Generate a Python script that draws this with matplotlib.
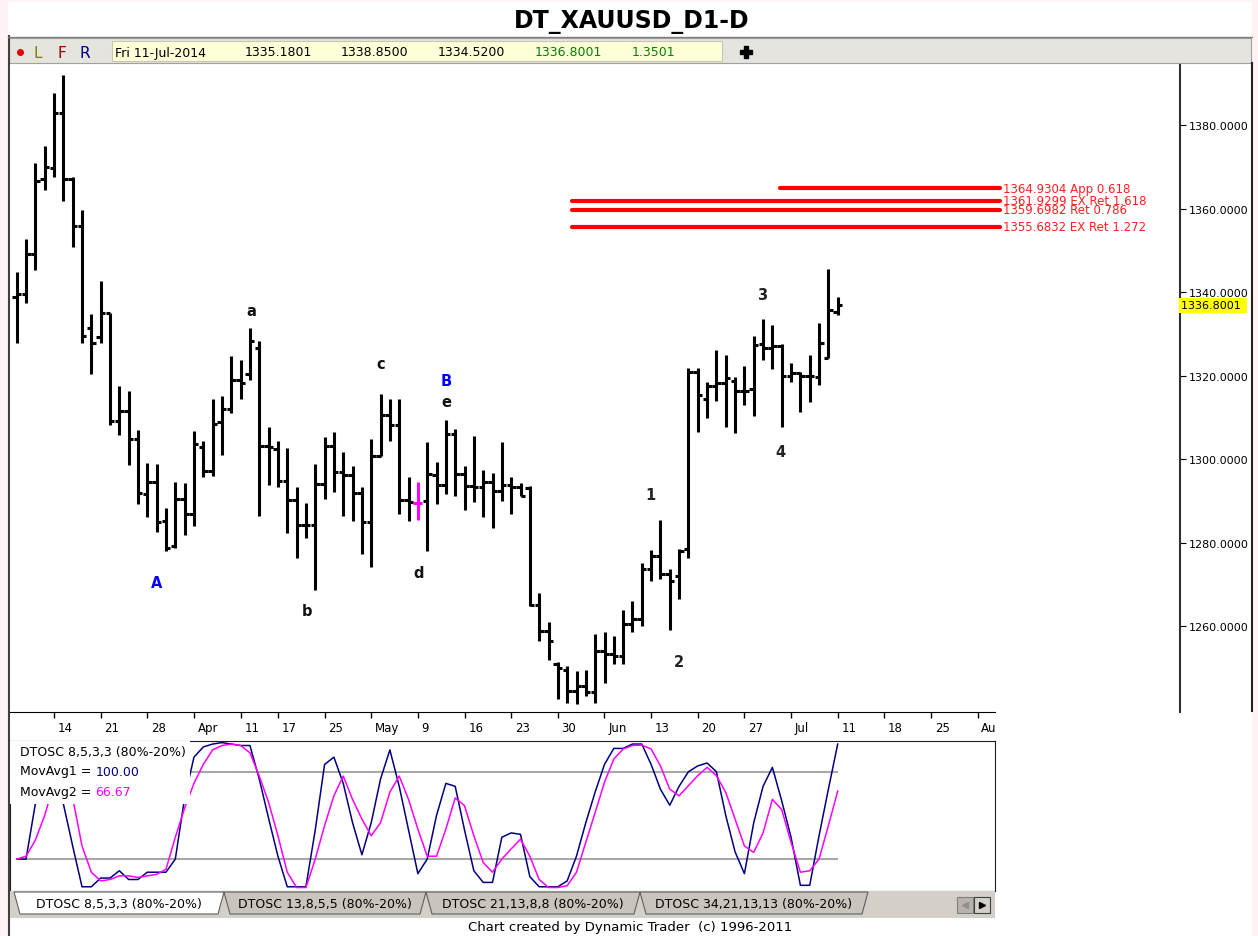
import numpy as np
import matplotlib.pyplot as plt
from matplotlib.patches import Rectangle, Polygon

W, H = 1258, 937

# daily bars XAUUSD, 10-Mar-2014 .. 11-Jul-2014
opens = [1338.9, 1339.5, 1349.1, 1367.1, 1369.8, 1382.8, 1367.1, 1355.9, 1331.3, 1329.3,
         1334.9, 1309.2, 1311.6, 1304.8, 1291.6, 1294.4, 1285.2, 1279.2, 1290.4, 1286.8,
         1303.0, 1297.2, 1308.8, 1312.1, 1318.9, 1320.4, 1326.5, 1303.2, 1302.4, 1294.8,
         1290.3, 1284.2, 1284.2, 1294.0, 1303.2, 1296.8, 1296.2, 1291.8, 1284.8, 1300.8,
         1310.5, 1308.2, 1290.3, 1289.5, 1290.0, 1296.2, 1293.8, 1306.1, 1296.4, 1293.5,
         1293.2, 1294.4, 1292.4, 1293.8, 1293.2, 1293.0, 1265.0, 1258.8, 1251.0, 1249.5,
         1244.5, 1245.7, 1244.3, 1254.1, 1253.3, 1252.7, 1260.5, 1261.7, 1273.6, 1276.8,
         1272.4, 1272.0, 1278.4, 1320.8, 1314.4, 1317.6, 1318.2, 1318.8, 1316.4, 1316.8,
         1327.5, 1326.5, 1327.0, 1320.0, 1320.6, 1319.8, 1319.6, 1324.3, 1335.18]
highs = [1344.9, 1352.7, 1370.9, 1375.0, 1387.8, 1392.0, 1367.5, 1359.7, 1334.7, 1342.6,
         1334.9, 1317.6, 1316.4, 1307.0, 1299.0, 1298.8, 1288.2, 1294.6, 1294.2, 1306.6,
         1304.4, 1314.4, 1315.2, 1324.6, 1323.8, 1331.3, 1328.3, 1307.6, 1304.4, 1302.6,
         1293.2, 1289.5, 1298.8, 1305.2, 1306.5, 1301.8, 1298.4, 1293.2, 1304.8, 1315.6,
         1314.4, 1314.4, 1295.6, 1294.6, 1304.0, 1299.2, 1309.4, 1307.3, 1298.4, 1305.6,
         1297.4, 1296.6, 1304.2, 1295.6, 1294.2, 1293.6, 1267.8, 1260.9, 1251.3, 1250.5,
         1249.3, 1249.5, 1258.1, 1258.5, 1257.5, 1263.9, 1266.0, 1275.2, 1278.3, 1285.4,
         1273.6, 1278.4, 1321.9, 1321.9, 1318.5, 1326.2, 1324.9, 1319.6, 1322.3, 1329.5,
         1333.5, 1332.1, 1327.5, 1323.0, 1320.8, 1324.9, 1332.5, 1345.5, 1338.85]
lows = [1327.8, 1337.5, 1345.3, 1364.4, 1367.5, 1361.9, 1350.7, 1327.9, 1320.3, 1327.9,
        1308.1, 1305.8, 1298.6, 1289.2, 1286.0, 1282.6, 1277.9, 1278.8, 1281.9, 1284.0,
        1295.8, 1296.0, 1301.0, 1311.0, 1314.4, 1319.0, 1286.4, 1293.8, 1293.4, 1282.3,
        1276.4, 1281.0, 1268.7, 1290.4, 1292.2, 1286.4, 1285.2, 1277.2, 1274.1, 1300.8,
        1304.4, 1286.8, 1285.2, 1285.5, 1278.0, 1289.2, 1291.6, 1291.1, 1287.8, 1289.8,
        1286.0, 1283.4, 1290.0, 1286.8, 1291.1, 1264.9, 1256.5, 1251.9, 1242.6, 1241.5,
        1241.3, 1243.3, 1241.6, 1246.3, 1250.9, 1250.9, 1258.5, 1260.1, 1270.9, 1271.3,
        1259.1, 1266.5, 1276.2, 1306.5, 1309.8, 1314.0, 1307.6, 1306.2, 1312.9, 1310.4,
        1323.8, 1321.6, 1307.6, 1318.5, 1311.3, 1313.7, 1317.7, 1324.3, 1334.52]
closes = [1339.5, 1349.1, 1366.7, 1370.0, 1382.8, 1367.1, 1355.9, 1329.5, 1327.7, 1334.9,
          1309.2, 1311.6, 1304.8, 1291.8, 1294.4, 1284.8, 1278.8, 1290.4, 1286.8, 1303.6,
          1297.2, 1308.4, 1312.1, 1318.9, 1318.2, 1328.2, 1303.2, 1302.8, 1294.8, 1290.3,
          1284.2, 1284.2, 1294.0, 1303.2, 1296.8, 1296.2, 1291.8, 1284.8, 1300.8, 1310.5,
          1308.2, 1290.3, 1289.6, 1289.5, 1296.4, 1293.8, 1306.1, 1296.4, 1293.5, 1293.2,
          1294.6, 1292.4, 1293.8, 1293.2, 1291.2, 1265.0, 1258.8, 1256.3, 1250.0, 1244.5,
          1245.7, 1244.3, 1254.1, 1253.3, 1252.7, 1260.5, 1261.6, 1273.6, 1276.8, 1272.4,
          1270.9, 1278.0, 1320.8, 1315.3, 1317.6, 1318.2, 1319.3, 1316.4, 1316.4, 1327.3,
          1326.5, 1327.0, 1320.0, 1320.6, 1319.8, 1319.8, 1327.8, 1335.8, 1336.8001]

# DTOSC 8,5,3,3
osc_fast = [20, 20, 58, 90, 92, 58, 29, 1, 1, 7,
            7, 12, 6, 6, 11, 11, 11, 20, 62, 90,
            97, 99, 100, 99, 98, 98, 75, 48, 22, 1,
            1, 1, 40, 85, 90, 72, 45, 23, 45, 75,
            95, 70, 40, 10, 20, 50, 72, 70, 40, 12,
            4, 4, 35, 38, 37, 8, 1, 1, 1, 5,
            22, 45, 66, 85, 96, 96, 99, 99, 85, 68,
            57, 70, 80, 84, 86, 80, 50, 25, 10, 45,
            70, 83, 60, 35, 2, 2, 36, 68, 99]
osc_slow = [20, 22, 33, 50, 72, 80, 62, 29, 11, 5,
            6, 8.5, 8.5, 7.4, 8.5, 9.5, 13, 35, 55, 72,
            85, 95, 98, 99, 98, 93, 77, 59, 36, 11,
            0.5, 0.5, 20, 43, 63.5, 77, 61, 47.5, 36, 45,
            66, 77, 61, 40.6, 22, 22, 40.6, 62, 56.7, 36,
            17.7, 11, 20, 27, 33.7, 22, 6, 0.5, 0.5, 1.7,
            11, 31.5, 52, 72.7, 88.7, 95.6, 98, 98.3, 95.6, 84,
            68, 63.5, 70.4, 77.3, 83, 77.3, 65.8, 47.5, 29, 24.6,
            38, 61, 54, 31.5, 11, 12, 20, 43, 66.67]

date_labels = ['14', '21', '28', 'Apr', '11', '17', '25', 'May', '9', '16', '23',
               '30', 'Jun', '13', '20', '27', 'Jul', '11', '18', '25', 'Aug']
date_idx = [4, 9, 14, 19, 24, 28, 33, 38, 43, 48, 53, 58, 63, 68, 73, 78, 83, 88, 93, 98, 103]

levels = [1364.9304, 1361.9299, 1359.6982, 1355.6832]
level_text = ['1364.9304 App 0.618', '1361.9299 EX Ret 1.618',
              '1359.6982 Ret 0.786', '1355.6832 EX Ret 1.272']
level_start = [81.8, 59.5, 59.5, 59.5]

wave_labels = ['a', 'b', 'c', 'd', 'e', 'A', 'B', '1', '2', '3', '4']
wave_x = [25.1, 31.1, 39.0, 43.1, 46.0, 15.0, 46.0, 67.9, 71.0, 79.9, 81.9]
wave_y = [1335.7, 1263.8, 1323.0, 1272.7, 1313.7, 1270.5, 1318.9, 1291.6, 1251.6, 1339.3, 1301.9]
wave_col = ['#111111'] * 5 + ['#0000FF', '#0000FF'] + ['#222222'] * 4

tab_names = ['DTOSC 8,5,3,3 (80%-20%)', 'DTOSC 13,8,5,5 (80%-20%)',
             'DTOSC 21,13,8,8 (80%-20%)', 'DTOSC 34,21,13,13 (80%-20%)']
tab_edges = [14, 224, 426, 640, 868]


def fbox(x0, y0, x1, y1):
    return [x0 / W, 1 - y1 / H, (x1 - x0) / W, (y1 - y0) / H]


X0 = -0.718  # bar index at left edge (px 10)
fig = plt.figure(figsize=(W / 100, H / 100), dpi=100)
fig.patch.set_facecolor('#FFF3F3')

# background, title and info bar in pixel coords
bg = fig.add_axes([0, 0, 1, 1])
bg.set_xlim(0, W)
bg.set_ylim(H, 0)
bg.axis('off')
bg.add_patch(Rectangle((8, 3), 1244, 934, fc='white', ec='none'))
bg.plot([8.5, 8.5], [37, 937], color='#404040', lw=1.5)
bg.plot([1251.5, 1251.5], [64, 712], color='#202020', lw=1.5)
bg.plot([8, 1252], [37.5, 37.5], color='#808080', lw=1)
bg.text(632, 22, 'DT_XAUUSD_D1-D', ha='center', va='center', fontsize=17, fontweight='bold')
bg.add_patch(Rectangle((9, 39), 1242, 25, fc='#E6E4DE', ec='#A0A0A0', lw=0.8))
bg.plot([20], [53], 'o', color='#E00000', ms=4)
for xx, ch, cc in [(38, 'L', '#808000'), (62, 'F', '#900000'), (85, 'R', '#000080')]:
    bg.text(xx, 53, ch, ha='center', va='center', fontsize=11, color=cc)
bg.add_patch(Rectangle((112, 42), 610, 20, fc='#FFFFD8', ec='#C8C8B0', lw=0.8))
for xx, t, cc in [(115, 'Fri 11-Jul-2014', 'black'), (245, '1335.1801', 'black'),
                  (341, '1338.8500', 'black'), (438, '1334.5200', 'black'),
                  (535, '1336.8001', '#008000'), (632, '1.3501', '#008000')]:
    bg.text(xx, 53, t, ha='left', va='center', fontsize=9, color=cc)
bg.plot([746], [53], 'P', color='black', ms=8)
bg.text(630, 928, 'Chart created by Dynamic Trader  (c) 1996-2011', ha='center', va='center',
        fontsize=9.5)

# price panel
ax = fig.add_axes(fbox(10, 66, 1180, 713))
ax.set_xlim(X0, 124.68)
ax.set_ylim(1239.4, 1394.4)
for s in ['top', 'left', 'bottom']:
    ax.spines[s].set_visible(False)
ax.spines['right'].set_color('#303030')
ax.spines['right'].set_linewidth(1.5)
ax.yaxis.tick_right()
ax.set_yticks(np.arange(1260, 1381, 20))
ax.set_yticklabels([f'{v:.4f}' for v in np.arange(1260, 1381, 20)])
ax.tick_params(axis='y', length=4, pad=2, labelsize=8)
ax.set_xticks([])

x = np.arange(len(closes))
colors = ['black'] * len(closes)
colors[43] = '#FF00FF'
ax.vlines(x, lows, highs, colors=colors, lw=2.2)
ax.hlines(opens, x - 0.48, x, colors=colors, lw=2.2)
ax.hlines(closes, x, x + 0.48, colors=colors, lw=2.2)

ax.hlines(levels, level_start, 105.4, colors='#FF0000', lw=3, capstyle='round')
for lv, t in zip(levels, level_text):
    ax.text(105.7, lv, t, color='#FF2020', fontsize=8.5, va='center', ha='left')

for lbl, wx, wy, wc in zip(wave_labels, wave_x, wave_y, wave_col):
    ax.text(wx, wy, lbl, ha='center', va='center', fontsize=10.5, fontweight='bold', color=wc)

ax.annotate('1336.8001 ', xy=(1.0, closes[-1]), xycoords=ax.get_yaxis_transform(),
            xytext=(1, 0), textcoords='offset points', va='center', ha='left', fontsize=8,
            bbox=dict(boxstyle='square,pad=0.25', fc='#FFFF00', ec='none'), annotation_clip=False)

# date axis
axd = fig.add_axes(fbox(10, 713, 995, 742))
axd.set_xlim(X0, 104.86)
axd.set_ylim(0, 1)
for s in ['left', 'right', 'bottom']:
    axd.spines[s].set_visible(False)
axd.spines['top'].set_color('black')
axd.set_xticks([])
axd.set_yticks([])
axd.vlines(date_idx, 0.8, 1.0, color='black', lw=1)
for i, lbl in zip(date_idx, date_labels):
    axd.text(i + 0.4, 0.45, lbl, ha='left', va='center', fontsize=8.5, clip_on=True)

# oscillator panel
axo = fig.add_axes(fbox(10, 742, 995, 892))
axo.set_xlim(X0, 104.86)
axo.set_ylim(-1.9, 101.1)
axo.set_xticks([])
axo.set_yticks([])
for s in axo.spines.values():
    s.set_color('#202020')
axo.hlines([20, 80], 0, 88, colors='#A8A8A8', lw=1.5)
axo.plot(x, osc_fast, color='#000080', lw=1.1)
axo.plot(x, osc_slow, color='#FF00FF', lw=1.1)
axo.add_patch(Rectangle((X0, 57.8), 18.57 - X0, 44, fc='white', ec='none', zorder=3))
axo.text(0.35, 94.2, 'DTOSC 8,5,3,3 (80%-20%)', va='center', ha='left', fontsize=9, zorder=4,
         bbox=dict(boxstyle='square,pad=0.1', fc='white', ec='none'))
t1 = axo.text(0.35, 80.5, 'MovAvg1 = ', va='center', ha='left', fontsize=9, zorder=4)
t2 = axo.text(0.35, 66.7, 'MovAvg2 = ', va='center', ha='left', fontsize=9, zorder=4)
axo.annotate('100.00', xy=(1, 0.5), xycoords=t1, va='center', ha='left', fontsize=9,
             color='#000080', zorder=4)
axo.annotate('66.67', xy=(1, 0.5), xycoords=t2, va='center', ha='left', fontsize=9,
             color='#FF00FF', zorder=4)

# indicator tabs
axt = fig.add_axes(fbox(10, 892, 995, 919))
axt.set_xlim(10, 995)
axt.set_ylim(919, 892)
axt.axis('off')
axt.add_patch(Rectangle((10, 892), 985, 27, fc='#D4D0C8', ec='none'))
for k, name in enumerate(tab_names):
    l, r = tab_edges[k], tab_edges[k + 1]
    fc = 'white' if k == 0 else '#C9C5BD'
    axt.add_patch(Polygon([(l, 893), (r, 893), (r - 6, 915), (l + 6, 915)], closed=True,
                          fc=fc, ec='#606060', lw=0.8))
    axt.text((l + r) / 2, 905, name, ha='center', va='center', fontsize=9)
axt.add_patch(Rectangle((957, 898), 16, 16, fc='#B8B4AC', ec='#808080', lw=0.8))
axt.add_patch(Rectangle((974, 898), 16, 16, fc='#D4D0C8', ec='#404040', lw=0.8))
axt.plot([965], [906], '<', color='#909090', ms=5)
axt.plot([982], [906], '>', color='black', ms=5)

fig.savefig('out.png', dpi=100, facecolor=fig.get_facecolor())
